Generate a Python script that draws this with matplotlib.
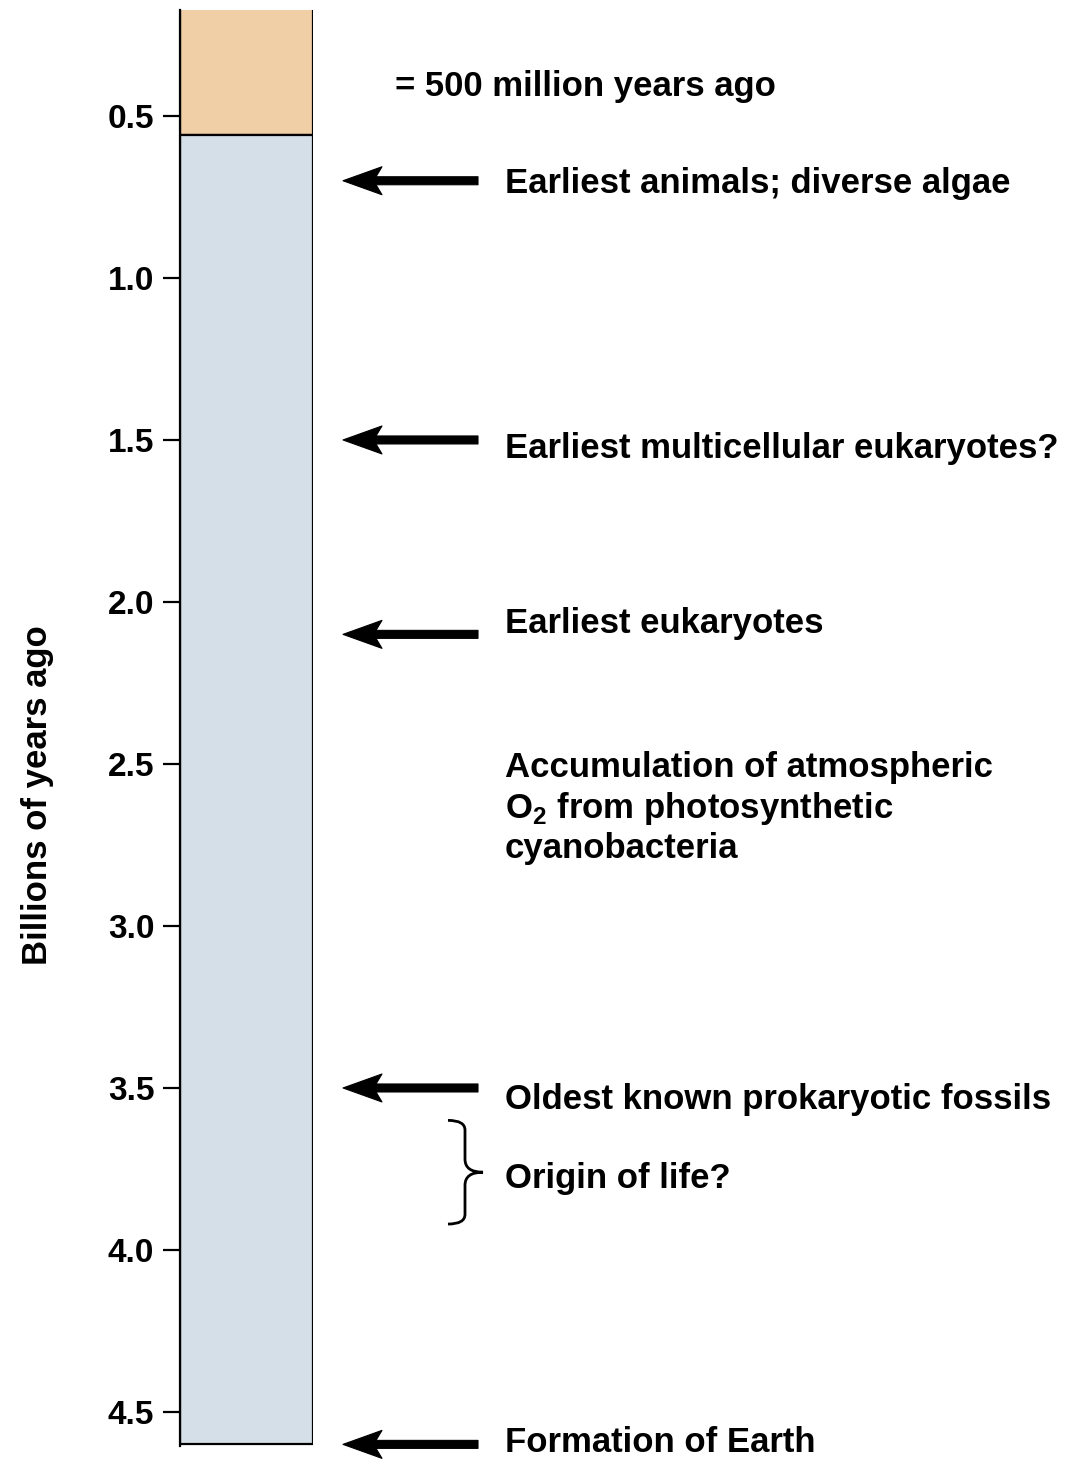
import matplotlib.pyplot as plt
from matplotlib.path import Path
from matplotlib.patches import PathPatch, Polygon
from matplotlib.transforms import blended_transform_factory

plt.rcParams['font.family'] = ['Liberation Sans', 'DejaVu Sans']
plt.rcParams['font.weight'] = 'bold'
plt.rcParams['mathtext.fontset'] = 'custom'
plt.rcParams['mathtext.rm'] = 'Liberation Sans:bold'
plt.rcParams['mathtext.bf'] = 'Liberation Sans:bold'

# time scale (billions of years ago)
era_top = [0.0, 0.56]
era_bottom = [0.56, 4.6]
era_colors = ['#f0cea6', '#d5dfe8']

ticks = [0.5, 1.0, 1.5, 2.0, 2.5, 3.0, 3.5, 4.0, 4.5]
tick_labels = ['0.5', '1.0', '1.5', '2.0', '2.5', '3.0', '3.5', '4.0', '4.5']

event_ages = [0.70, 1.50, 2.10, 3.50, 4.60]
event_labels = ['Earliest animals; diverse algae',
                'Earliest multicellular eukaryotes?',
                'Earliest eukaryotes',
                'Oldest known prokaryotic fossils',
                'Formation of Earth']

oxygen_age = 2.636
oxygen_label = 'Accumulation of atmospheric\nO$_\\mathbf{2}$ from photosynthetic\ncyanobacteria'

origin_range = [3.60, 3.92]
origin_label = 'Origin of life?'

scale_note = '= 500 million years ago'

W, H = 1084, 1459
FS = 25
fig = plt.figure(figsize=(W / 100, H / 100), dpi=100)
ax = fig.add_axes([180 / W, 13 / H, 133 / W, 1436 / H])

for t, b, c in zip(era_top, era_bottom, era_colors):
    ax.bar(0, b - t, bottom=t, width=1, color=c, edgecolor='black', linewidth=1.6)

ax.set_xlim(-0.5, 0.5)
ax.set_ylim(4.605, 0.173)
ax.set_xticks([])
ax.set_yticks(ticks)
ax.set_yticklabels(tick_labels, fontsize=24, fontweight='bold')
ax.tick_params(axis='y', length=12, width=1.6, pad=6.5, direction='out')
for s in ['top', 'right', 'bottom']:
    ax.spines[s].set_visible(False)
ax.spines['left'].set_linewidth(1.6)
ax.set_ylabel('Billions of years ago', fontsize=FS, fontweight='bold')
ax.yaxis.set_label_coords(-0.947, 0.453)

tr = blended_transform_factory(fig.transFigure, ax.transData)
ppx = (4.605 - 0.173) / 1436  # data units per pixel


def arrow(age):
    # swept arrow head, pointing left, in pixel offsets
    shape = [(343, 0), (382, -14), (376, -4), (478, -4),
             (478, 4), (376, 4), (382, 14)]
    pts = [(x / W, age + dy * ppx) for x, dy in shape]
    fig.add_artist(Polygon(pts, closed=True, transform=tr, facecolor='black',
                           edgecolor='black', linewidth=0.8, joinstyle='round'))


text_shift = [0.01, 0.025, -0.032, 0.037, -0.007]
for age, lab, dy in zip(event_ages, event_labels, text_shift):
    arrow(age)
    ax.text(505 / W, age + dy, lab, transform=tr, fontsize=FS,
            fontweight='bold', va='center', ha='left', clip_on=False)

ax.text(505 / W, oxygen_age, oxygen_label, transform=tr, fontsize=FS,
        fontweight='bold', va='center', ha='left', linespacing=1.22)

ax.text(395 / W, 0.41, scale_note, transform=tr, fontsize=FS,
        fontweight='bold', va='center', ha='left')

# curly brace
y0, y1 = origin_range
ym = (y0 + y1) / 2
xl, xm, xr = 448 / W, 465 / W, 483 / W
verts = [(xl, y0), (xm, y0), (xm, y0 + 0.03),
         (xm, ym - 0.04), (xm, ym), (xr, ym),
         (xm, ym), (xm, ym + 0.04),
         (xm, y1 - 0.03), (xm, y1), (xl, y1)]
codes = [Path.MOVETO, Path.CURVE3, Path.CURVE3,
         Path.LINETO, Path.CURVE3, Path.CURVE3,
         Path.CURVE3, Path.CURVE3,
         Path.LINETO, Path.CURVE3, Path.CURVE3]
brace = PathPatch(Path(verts, codes), transform=tr, facecolor='none',
                  edgecolor='black', linewidth=2.0, clip_on=False)
fig.add_artist(brace)
ax.text(505 / W, 3.778, origin_label, transform=tr, fontsize=FS,
        fontweight='bold', va='center', ha='left')

fig.savefig('out.png', dpi=100, facecolor='white')
